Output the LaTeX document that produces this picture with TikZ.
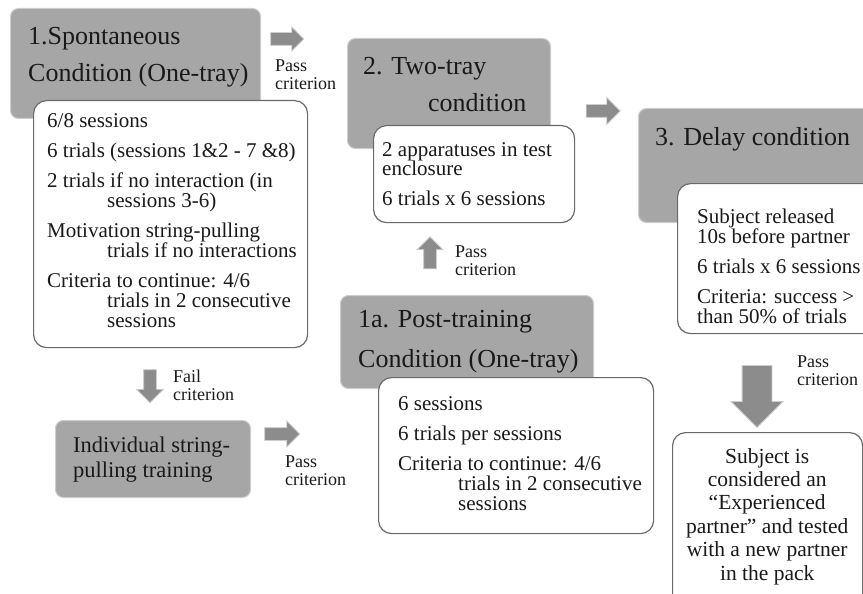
\documentclass[tikz,border=0pt]{standalone}
\usepackage{fontspec}
\setmainfont{Liberation Serif}
\usetikzlibrary{shapes.arrows}
\definecolor{boxgray}{RGB}{166,166,166}
\definecolor{edgegray}{RGB}{205,205,205}
\definecolor{linegray}{RGB}{105,105,105}
\definecolor{arrowgray}{RGB}{140,140,140}
\definecolor{inkcol}{RGB}{25,25,25}
\newcommand\myln[1]{\hbox{#1}}
\newcommand\myind[1]{\hbox{\kern60pt #1}}
\newcommand\mygap{\vskip10pt}
\newcommand\myctr[1]{\hbox to 190pt{\hfil #1\hfil}}
\newcommand\myvt[1]{\vtop{\lineskiplimit=-50pt\relax #1}}
\begin{document}
\begin{tikzpicture}[x=1pt,y=-1pt,
  graybox/.style={draw=edgegray, line width=1pt, fill=boxgray, rounded corners=8pt, anchor=north west, inner sep=0pt},
  whitebox/.style={draw=linegray, line width=1.2pt, fill=white, rounded corners=13pt, anchor=north west, inner sep=0pt},
  txt/.style={anchor=base west, inner sep=0pt, text=inkcol},
  title/.style={txt, font=\fontsize{26}{37}\selectfont},
  body/.style={txt, font=\fontsize{21}{20}\selectfont},
  lbl/.style={txt, font=\fontsize{18}{18}\selectfont},
  blockarrow/.style={single arrow, fill=arrowgray, draw=edgegray, line width=0.8pt, single arrow head indent=0pt}
]
\useasboundingbox (0,0) rectangle (863,594);

% boxes
\node[graybox, minimum width=250, minimum height=110] (g1) at (10,8) {};
\node[whitebox, minimum width=274, minimum height=247] (w1) at (33,100) {};
\node[graybox, minimum width=203, minimum height=110] (g2) at (347,38) {};
\node[whitebox, minimum width=201, minimum height=97] (w2) at (373,125) {};
\node[graybox, minimum width=250, minimum height=114] (g3) at (638,108) {};
\node[whitebox, minimum width=220, minimum height=150] (w3) at (677,183) {};
\node[graybox, minimum width=253, minimum height=93] (g1a) at (340,295) {};
\node[whitebox, minimum width=275, minimum height=156] (w1a) at (378,377) {};
\node[graybox, minimum width=195, minimum height=77] (gi) at (55,420) {};
\node[whitebox, minimum width=190, minimum height=190] (wf) at (672,432) {};

% texts
\node[title] (t1) at (28,45) {\myvt{\myln{1.Spontaneous}\myln{Condition (One-tray)}}};
\node[body] (b1) at (47,128) {\myvt{
  \myln{6/8 sessions}\mygap
  \myln{6 trials (sessions 1\&2 - 7 \&8)}\mygap
  \myln{2 trials if no interaction (in}
  \myind{sessions 3-6)}\mygap
  \myln{Motivation string-pulling}
  \myind{trials if no interactions}\mygap
  \myln{Criteria to continue: 4/6}
  \myind{trials in 2 consecutive}
  \myind{sessions}}};

\node[title] (t2) at (363,75) {\myvt{\myln{2. Two-tray}\hbox{\kern65pt condition}}};
\node[body] (b2) at (382,156) {\myvt{
  \myln{2 apparatuses in test}
  \myln{enclosure}\mygap
  \myln{6 trials x 6 sessions}}};

\node[title] (t3) at (655,145) {3. Delay condition};
\node[body] (b3) at (697,223) {\myvt{
  \myln{Subject released}
  \myln{10s before partner}\mygap
  \myln{6 trials x 6 sessions}\mygap
  \myln{Criteria: success >}
  \myln{than 50\% of trials}}};

\node[title, font=\fontsize{26}{40}\selectfont] (t1a) at (358,327) {\myvt{\myln{1a. Post-training}\myln{Condition (One-tray)}}};
\node[body] (b1a) at (398,410) {\myvt{
  \myln{6 sessions}\mygap
  \myln{6 trials per sessions}\mygap
  \myln{Criteria to continue: 4/6}
  \myind{trials in 2 consecutive}
  \myind{sessions}}};

\node[txt, font=\fontsize{22.5}{25}\selectfont] (ti) at (73,452) {\myvt{\myln{Individual string-}\myln{pulling training}}};

\node[txt, font=\fontsize{21.5}{23.4}\selectfont] (tf) at (672,463) {\myvt{
  \myctr{Subject is}
  \myctr{considered an}
  \myctr{“Experienced}
  \myctr{partner” and tested}
  \myctr{with a new partner}
  \myctr{in the pack}}};

% labels
\node[lbl] (l1) at (275,72) {\myvt{\myln{Pass}\myln{criterion}}};
\node[lbl] (l2) at (455,257) {\myvt{\myln{Pass}\myln{criterion}}};
\node[lbl] (l3) at (173,382) {\myvt{\myln{Fail}\myln{criterion}}};
\node[lbl] (l4) at (285,467) {\myvt{\myln{Pass}\myln{criterion}}};
\node[lbl] (l5) at (797,367) {\myvt{\myln{Pass}\myln{criterion}}};

% arrows
\node[blockarrow, inner sep=6pt, minimum height=33, minimum width=23, single arrow head extend=5.5] (a1) at (284,39) {};
\node[blockarrow, inner sep=6pt, minimum height=34, minimum width=26, single arrow head extend=7] (a2) at (600,111) {};
\node[blockarrow, inner sep=6pt, minimum height=32, minimum width=25, single arrow head extend=6.5, shape border rotate=90] (a3) at (430,256) {};
\node[blockarrow, inner sep=6pt, minimum height=33, minimum width=26, single arrow head extend=7, shape border rotate=270] (a4) at (150,383) {};
\node[blockarrow, inner sep=6pt, minimum height=35, minimum width=25, single arrow head extend=6.5] (a5) at (279,434) {};
\node[blockarrow, inner sep=14.5pt, minimum height=62, minimum width=51, single arrow head extend=11, shape border rotate=270] (a6) at (757,389) {};
\end{tikzpicture}
\end{document}
